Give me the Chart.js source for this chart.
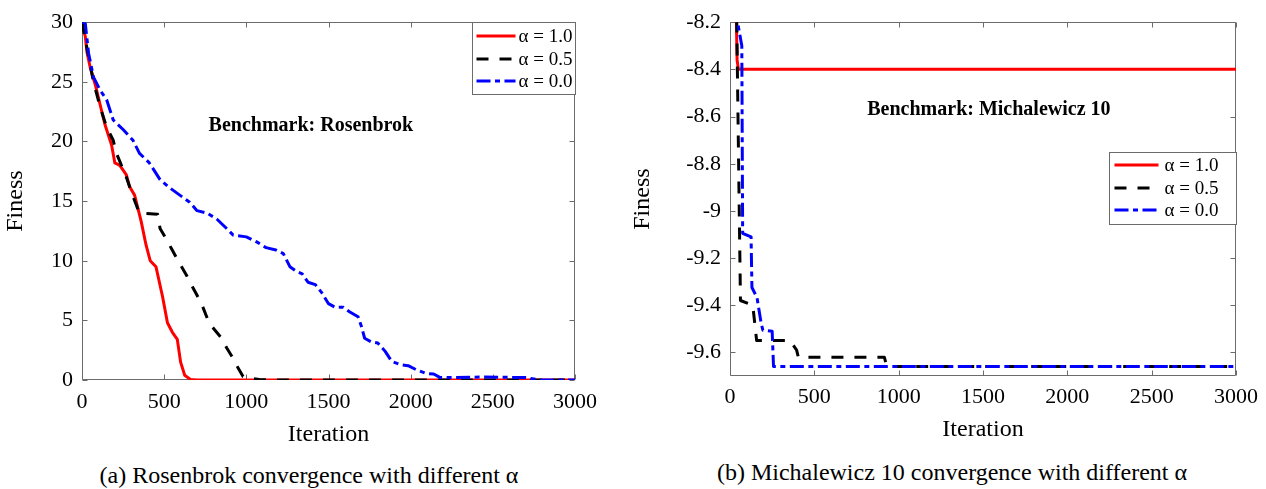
<!DOCTYPE html>
<html>
<head>
<meta charset="utf-8">
<script src="https://cdn.jsdelivr.net/npm/chart.js@4.4.1/dist/chart.umd.min.js"></script>
<style>
  body { margin: 0; background: #fff; width: 1266px; height: 489px; overflow: hidden; position: relative;
         font-family: "Liberation Serif", "Times New Roman", serif; }
  .wrap { position: absolute; top: 0; height: 450px; }
  #wrapA { left: 0; width: 620px; }
  #wrapB { left: 626px; width: 640px; }
  .cap { position: absolute; font-size: 24px; line-height: 28px; white-space: nowrap; transform: translateX(-50%); color: #000; }
</style>
</head>
<body>
<div class="wrap" id="wrapA"><canvas id="chartA"></canvas></div>
<div class="wrap" id="wrapB"><canvas id="chartB"></canvas></div>
<div class="cap" style="left:309px; top:461px;">(a) Rosenbrok convergence with different α</div>
<div class="cap" style="left:952px; top:458px;">(b) Michalewicz 10 convergence with different α</div>

<script>
// ---- data ----
const alphaLabels = ['α = 1.0', 'α = 0.5', 'α = 0.0'];

// (a) Rosenbrok
const rosenIterRed = [0, 20, 30, 50, 80, 110, 140, 180, 200, 230, 270, 290, 320, 360, 390, 415, 450, 490, 520, 550, 580, 600, 625, 660, 700, 3000];
const rosenFitRed = [30, 28.8, 27.5, 26.2, 24.8, 23.1, 21.4, 19.7, 18.2, 18.0, 17.2, 16.2, 15.5, 13.3, 11.3, 10.0, 9.5, 7.0, 4.8, 4.0, 3.4, 1.5, 0.4, 0.05, 0, 0];

const rosenIterBlack = [0, 40, 70, 110, 150, 190, 210, 270, 310, 335, 350, 460, 475, 505, 545, 585, 635, 665, 700, 730, 770, 790, 850, 880, 920, 950, 980, 1020, 1080, 1150, 3000];
const rosenFitBlack = [30, 27.1, 25.0, 22.9, 21.2, 20.1, 19.0, 17.0, 15.4, 14.5, 14.0, 13.9, 12.7, 12.0, 11.0, 10.0, 8.8, 8.0, 7.1, 6.3, 4.9, 4.5, 3.5, 2.7, 1.8, 1.0, 0.3, 0.14, 0.05, 0, 0];

const rosenIterBlue = [0, 20, 40, 70, 110, 150, 190, 250, 310, 350, 410, 475, 535, 595, 655, 700, 760, 820, 880, 920, 1000, 1060, 1120, 1180, 1225, 1265, 1305, 1340, 1375, 1420, 1460, 1500, 1540, 1590, 1630, 1680, 1700, 1720, 1760, 1800, 1845, 1885, 1935, 1985, 2035, 2095, 2140, 2180, 2250, 2450, 2700, 2790, 3000];
const rosenFitBlue = [30, 29.9, 27.4, 25.4, 24.3, 23.5, 21.8, 21.0, 20.1, 19.0, 18.2, 16.8, 16.1, 15.5, 14.9, 14.2, 14.0, 13.5, 12.7, 12.15, 12.0, 11.6, 11.1, 10.9, 10.6, 9.5, 9.1, 8.9, 8.2, 8.0, 7.3, 6.4, 6.1, 6.1, 5.7, 5.3, 4.5, 3.5, 3.2, 3.1, 2.4, 1.55, 1.3, 1.2, 0.85, 0.55, 0.5, 0.2, 0.2, 0.25, 0.2, 0, 0];

// (b) Michalewicz 10
const michIterRed = [0, 38, 42, 50, 3000];
const michFitRed = [-8.0, -8.2, -8.36, -8.4, -8.4];

const michIterBlack = [0, 40, 62, 135, 158, 355, 395, 405, 915, 930, 3000];
const michFitBlack = [-8.0, -8.2, -9.38, -9.40, -9.55, -9.55, -9.59, -9.62, -9.62, -9.66, -9.66];

const michIterBlue = [0, 45, 70, 75, 125, 130, 160, 185, 195, 250, 258, 3000];
const michFitBlue = [-7.9, -8.2, -8.3, -9.095, -9.11, -9.325, -9.367, -9.478, -9.506, -9.51, -9.66, -9.66];

const iterTicks = [0, 500, 1000, 1500, 2000, 2500, 3000];
const rosenYTicks = [0, 5, 10, 15, 20, 25, 30];
const michYTicks = [-9.6, -9.4, -9.2, -9, -8.8, -8.6, -8.4, -8.2];

// ---- styles ----
Chart.defaults.font.family = '"Liberation Serif", "Times New Roman", serif';
Chart.defaults.color = '#000';
Chart.defaults.animation = false;

const lineStyles = [
  { color: '#ff0000', dash: [], order: 3 },
  { color: '#000000', dash: [12, 11], order: 2 },
  { color: '#0000ff', dash: [14, 4.5, 5, 4.5], order: 1 }
];

function pairs(xs, ys) {
  return xs.map((x, i) => ({ x: x, y: ys[i] }));
}

function makeDatasets(series) {
  return series.map((s, i) => ({
    label: alphaLabels[i],
    data: pairs(s[0], s[1]),
    borderColor: lineStyles[i].color,
    borderDash: lineStyles[i].dash,
    borderWidth: 3,
    borderCapStyle: 'butt',
    borderJoinStyle: 'round',
    pointRadius: 0,
    tension: 0,
    fill: false,
    order: lineStyles[i].order
  }));
}

// box around the axes with inward ticks on all four sides (matlab look)
const framePlugin = {
  id: 'frame',
  beforeDatasetsDraw(chart) {
    const { ctx, chartArea: a, scales: { x, y } } = chart;
    const L = Math.round(a.left) + 0.5, R = Math.round(a.right) - 0.5;
    const T = Math.round(a.top) + 0.5, B = Math.round(a.bottom) - 0.5;
    ctx.save();
    ctx.strokeStyle = '#6b6b6b';
    ctx.lineWidth = 1;
    ctx.beginPath();
    ctx.rect(L, T, R - L, B - T);
    x.ticks.forEach(t => {
      const p = Math.round(x.getPixelForValue(t.value)) + 0.5;
      ctx.moveTo(p, B); ctx.lineTo(p, B - 5);
      ctx.moveTo(p, T); ctx.lineTo(p, T + 5);
    });
    y.ticks.forEach(t => {
      const p = Math.round(y.getPixelForValue(t.value)) + 0.5;
      ctx.moveTo(L, p); ctx.lineTo(L + 5, p);
      ctx.moveTo(R, p); ctx.lineTo(R - 5, p);
    });
    ctx.stroke();
    ctx.restore();
  }
};

// "Benchmark: ..." note inside the plot
const notePlugin = {
  id: 'note',
  afterDatasetsDraw(chart, args, opts) {
    const { ctx, scales: { x, y } } = chart;
    ctx.save();
    ctx.font = 'bold 20px "Liberation Serif", "Times New Roman", serif';
    ctx.fillStyle = '#000';
    ctx.textAlign = 'center';
    ctx.textBaseline = 'middle';
    ctx.fillText(opts.text, x.getPixelForValue(opts.x), y.getPixelForValue(opts.y));
    ctx.restore();
  }
};

// legend box drawn inside the axes
const boxLegendPlugin = {
  id: 'boxLegend',
  afterDatasetsDraw(chart, args, opts) {
    const { ctx, chartArea: a } = chart;
    const left = Math.round(a.right - opts.width) + 0.5;
    const top = Math.round(a.top + opts.top) + 0.5;
    ctx.save();
    ctx.fillStyle = '#fff';
    ctx.fillRect(left, top, opts.width, opts.height);
    ctx.strokeStyle = '#6b6b6b';
    ctx.lineWidth = 1;
    ctx.strokeRect(left, top, opts.width, opts.height);
    ctx.font = '19px "Liberation Serif", "Times New Roman", serif';
    ctx.textBaseline = 'middle';
    ctx.textAlign = 'left';
    chart.data.datasets.forEach((ds, i) => {
      const yy = Math.round(top + opts.rows[i]);
      ctx.beginPath();
      ctx.strokeStyle = ds.borderColor;
      ctx.lineWidth = ds.borderWidth;
      ctx.setLineDash(ds.borderDash);
      ctx.moveTo(left + opts.sampleFrom, yy);
      ctx.lineTo(left + opts.sampleTo, yy);
      ctx.stroke();
      ctx.setLineDash([]);
      ctx.fillStyle = '#000';
      ctx.fillText(ds.label, left + opts.textX, yy + 1);
    });
    ctx.restore();
  }
};

function makeChart(id, cfg) {
  return new Chart(document.getElementById(id), {
    type: 'line',
    data: { datasets: makeDatasets(cfg.series) },
    plugins: [framePlugin, notePlugin, boxLegendPlugin],
    options: {
      responsive: true,
      maintainAspectRatio: false,
      devicePixelRatio: 1,
      layout: { padding: cfg.padding },
      plugins: {
        legend: { display: false },
        tooltip: { enabled: false },
        note: cfg.note,
        boxLegend: cfg.legend
      },
      scales: {
        x: {
          type: 'linear',
          min: 0, max: 3000,
          grid: { display: false, drawTicks: false },
          border: { display: false },
          afterBuildTicks: s => { s.ticks = iterTicks.map(v => ({ value: v })); },
          ticks: { autoSkip: false, maxRotation: 0, padding: cfg.xTickPad, font: { size: 22 }, callback: v => String(v) },
          title: { display: true, text: 'Iteration', font: { size: 24 }, padding: { top: 0, bottom: cfg.xTitlePad } },
          afterFit: s => { s.height = cfg.xHeight; }
        },
        y: {
          type: 'linear',
          min: cfg.yMin, max: cfg.yMax,
          grid: { display: false, drawTicks: false },
          border: { display: false },
          afterBuildTicks: s => { s.ticks = cfg.yTicks.map(v => ({ value: v })); },
          ticks: { autoSkip: false, padding: 9, font: { size: 22 }, callback: v => String(Math.round(v * 10) / 10) },
          title: { display: true, text: 'Finess', font: { size: 24 }, padding: { top: cfg.yTitlePad, bottom: 0 } },
          afterFit: s => { s.width = cfg.yWidth; }
        }
      }
    }
  });
}

makeChart('chartA', {
  series: [[rosenIterRed, rosenFitRed], [rosenIterBlack, rosenFitBlack], [rosenIterBlue, rosenFitBlue]],
  yMin: 0, yMax: 30, yTicks: rosenYTicks,
  padding: { top: 22, right: 45, bottom: 0, left: 0 },
  yWidth: 82, xHeight: 70, xTickPad: 9, xTitlePad: 0.6, yTitlePad: 1.6,
  note: { text: 'Benchmark: Rosenbrok', x: 1393, y: 21.3 },
  legend: { width: 103, top: 0, height: 72, rows: [13, 36, 58], sampleFrom: 4, sampleTo: 43, textX: 46 }
});

makeChart('chartB', {
  series: [[michIterRed, michFitRed], [michIterBlack, michFitBlack], [michIterBlue, michFitBlue]],
  yMin: -9.7, yMax: -8.2, yTicks: michYTicks,
  padding: { top: 16, right: 28, bottom: 0, left: 0 },
  yWidth: 104, xHeight: 74, xTickPad: 8, xTitlePad: 5.6, yTitlePad: 2.6,
  note: { text: 'Benchmark: Michalewicz 10', x: 1535, y: -8.573 },
  legend: { width: 127, top: 130, height: 72, rows: [12, 35, 57], sampleFrom: 5, sampleTo: 49, textX: 55 }
});
</script>
</body>
</html>
